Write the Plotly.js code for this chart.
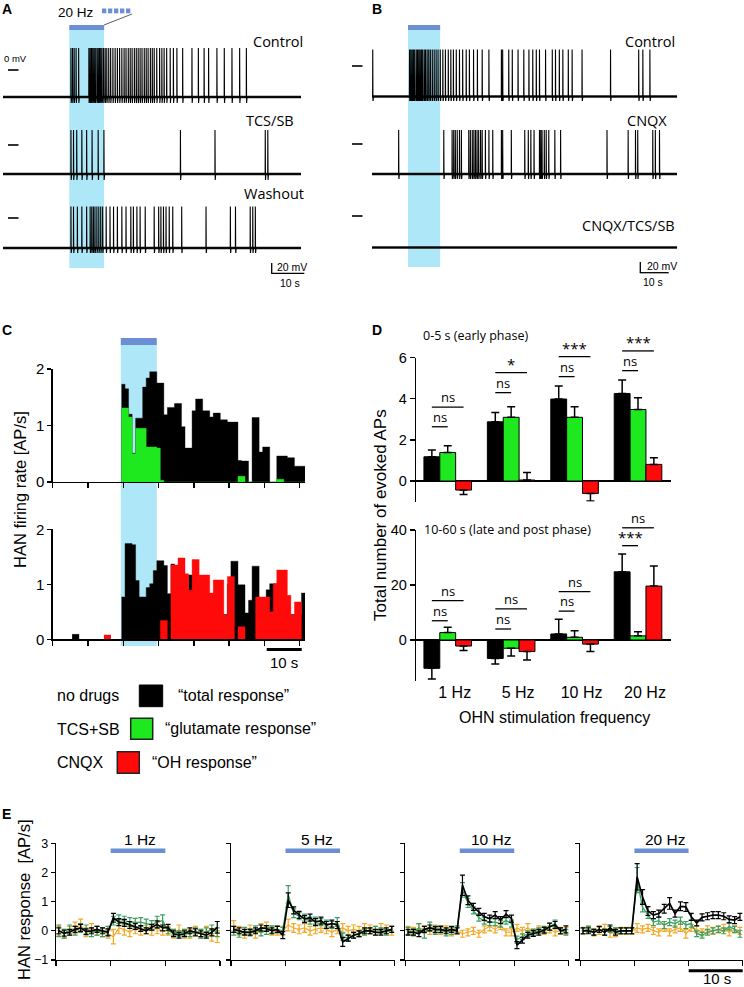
<!DOCTYPE html>
<html><head><meta charset="utf-8">
<script src="https://cdn.plot.ly/plotly-3.0.1.min.js"></script>
<style>html,body{margin:0;padding:0;background:#fff}#chart{width:744px;height:987px}</style>
</head><body><div id="chart"></div>
<script>
// ---------------- DATA ----------------
// Panel A: spike times (s) of the three recordings
const aControlSpikes = [21.2,21.7,22.2,22.8,23.6,26.8,27.2,27.6,28.0,28.4,28.8,29.3,29.7,30.1,30.5,30.9,31.4,31.9,32.4,33.0,33.6,34.3,35.0,35.7,36.4,37.1,37.8,38.4,39.1,39.7,40.3,41.0,41.6,42.2,42.8,43.4,44.1,44.7,45.3,46.0,46.6,47.2,48.0,48.9,49.6,50.3,51.1,52.2,53.2,54.3,56.1,59.0,61.0,62.8,64.2,66.8,69.1,71.5,73.9,76.0];
const aTcsSpikes = [21.2,22.0,23.0,24.6,26.1,27.8,29.7,31.5,55.4,66.2,81.9,82.7];
const aWashSpikes = [21.2,22.0,23.2,24.6,26.1,27.2,27.7,28.2,28.7,29.3,29.9,30.5,31.1,32.2,33.4,34.5,35.7,37.1,38.4,39.9,40.7,41.8,42.8,44.4,47.2,48.6,49.3,50.1,50.9,51.9,53.0,55.8,63.4,71.0,72.6,77.2,78.0,78.8];
const aLabels = ['Control','TCS/SB','Washout'];
const aBaseline = [-54,-58,-60];   // mV
const aPeak = [44,30,23];          // mV
const aLight = [20.7,31.6];        // s
// Panel B
const bControlSpikes = [10.2,21.7,22.1,22.5,22.9,23.3,23.8,24.2,24.6,25.0,25.4,25.8,26.3,26.7,27.2,27.7,28.2,28.8,29.4,30.0,30.6,31.3,32.1,32.9,33.8,34.6,35.4,36.3,37.3,38.3,39.4,40.4,41.7,42.9,44.4,46.5,50.4,50.8,52.7,53.8,55.6,57.4,59.0,60.2,61.3,62.3,64.2,66.3,67.3,68.5,69.6,71.3,72.5,75.6,84.5,93.3,94.6,96.8];
const bCnqxSpikes = [18.3,32.4,35.0,35.5,36.0,36.6,37.3,37.9,40.2,40.7,41.3,41.8,42.3,42.8,43.3,43.9,44.4,45.4,46.5,47.7,50.4,50.8,53.5,57.7,58.8,59.6,60.6,62.3,62.7,63.1,63.8,64.4,65.2,67.1,68.9,83.4,90.0,92.3,93.0,97.7,98.5,99.8];
const bTripleSpikes = [];
const bLabels = ['Control','CNQX','CNQX/TCS/SB'];
const bBaseline = [-61,-60,-63];
const bPeak = [33,28,0];
const bLight = [21.25,31.3];
const ahpDepth = 12; // mV below baseline

// Panel C: firing-rate histograms (AP/s), 1 s bins starting at 19.5 s
const cBinStart = 19.5;
const cTopBlack = [1.73,1.65,1.2,0.51,1.13,1.13,1.68,1.84,1.95,1.95,1.75,1.75,1.19,1.32,1.32,1.39,1.39,0.98,0.6,0.6,1.26,1.47,1.47,1.26,1.26,1.15,1.22,1.22,1.1,1.1,1.06,1.06,1.06,0.38,0.37,0.37,0,1.14,1.14,0.53,0.62,0.62,0,0,0.46,0.46,0.46,0.43,0.43,0.28,0.28,0.28];
const cTopGreen = [1.31,1.31,1.15,0.5,0.95,0.95,0.95,0.62,0.62,0.62,0.6,0.03,0,0,0,0,0,0,0,0,0,0,0,0,0,0,0,0,0,0,0,0,0,0.1,0.1,0,0,0,0,0,0,0,0,0,0.05,0.05,0,0,0,0,0,0];
const cBotBlack = [0.77,1.74,1.74,1.72,1.07,0.77,0.77,0.94,1.01,1.25,1.43,1.43,1.34,0.83,1.37,1.34,1.1,0.95,0.6,1.17,1.17,0.9,0.9,0.8,0.7,0.6,0.5,0.5,0.45,0.45,1.0,1.42,1.42,0.99,0.99,0.48,0.71,1.33,1.33,0.5,0.5,0.9,1.01,1.01,0.5,0.5,0.45,0.45,0.45,0.45,0.45,0.84];
const cBotRed = [0,0,0,0,0,0,0,0,0,0,0,0.34,0.34,0,1.35,1.35,1.48,1.48,1.19,0.89,1.45,1.45,1.17,1.17,1.17,0.84,1.08,1.08,1.08,0.44,1.14,1.14,0,0.23,0.23,0,0,0,0.77,0.77,0.77,0.77,0.5,1.01,1.26,1.26,1.26,0.8,0.44,0.68,0.68,0];
const cPreBlackStart = [5.5,6.5];  const cPreBlack = [0.09,0.09];
const cPreRedStart = [14.5,15.5];  const cPreRed = [0.08,0.08];
const cLight = [19.3,29.5];

// Panel D: total number of evoked APs
const dFreq = ['1 Hz','5 Hz','10 Hz','20 Hz'];
const dTopBlack = [1.18,2.88,3.99,4.26], dTopBlackErr = [0.33,0.46,0.63,0.65];
const dTopGreen = [1.39,3.10,3.10,3.48], dTopGreenErr = [0.33,0.52,0.52,0.57];
const dTopRed = [-0.44,0.05,-0.60,0.81],  dTopRedErr = [0.21,0.36,0.37,0.32];
const dBotBlack = [-10.3,-6.7,2.2,24.8],  dBotBlackErr = [3.9,2.0,5.3,6.5];
const dBotGreen = [2.7,-3.0,1.0,1.5],     dBotGreenErr = [1.9,2.8,2.4,1.5];
const dBotRed = [-2.2,-4.2,-1.5,19.6],    dBotRedErr = [1.6,3.1,2.7,7.3];
const dTopSigLower = ['ns','ns','ns','ns'], dTopSigUpper = ['ns','*','***','***'];
const dBotSigLower = ['ns','ns','ns','***'], dBotSigUpper = ['ns','ns','ns','ns'];

// Panel E: HAN response (AP/s), 1 s bins
const eFreq = ['1 Hz','5 Hz','10 Hz','20 Hz'];
const eStim = [10,20];
const eT = [0.5,1.5,2.5,3.5,4.5,5.5,6.5,7.5,8.5,9.5,10.5,11.5,12.5,13.5,14.5,15.5,16.5,17.5,18.5,19.5,20.5,21.5,22.5,23.5,24.5,25.5,26.5,27.5,28.5,29.5];
const black1 = [0.0,-0.08,-0.05,0.05,0.1,-0.03,0.0,0.05,0.0,-0.05,0.45,0.3,0.27,0.2,0.15,0.08,0.0,0.12,0.22,0.1,0.12,-0.1,-0.15,-0.1,0.0,-0.05,-0.1,-0.15,-0.05,0.12];
const blackErr1 = [0.1,0.1,0.1,0.1,0.12,0.1,0.1,0.1,0.1,0.12,0.15,0.12,0.12,0.12,0.1,0.1,0.1,0.1,0.12,0.1,0.1,0.1,0.1,0.1,0.1,0.12,0.1,0.1,0.12,0.2];
const green1 = [0.0,-0.1,0.05,0.0,0.1,0.05,-0.05,0.0,-0.05,0.0,0.35,0.4,0.35,0.3,0.28,0.3,0.25,0.2,0.3,0.35,0.0,-0.05,-0.1,-0.05,-0.1,0.0,-0.1,-0.05,0.05,-0.05];
const greenErr1 = [0.2,0.15,0.15,0.15,0.15,0.15,0.15,0.15,0.15,0.15,0.15,0.15,0.15,0.15,0.15,0.15,0.15,0.15,0.2,0.2,0.1,0.1,0.1,0.1,0.1,0.1,0.15,0.15,0.15,0.15];
const orange1 = [0.0,-0.1,0.0,0.1,0.2,-0.05,0.1,0.0,-0.05,-0.1,-0.2,0.1,0.05,-0.05,0.1,0.0,0.05,0.0,0.1,0.0,0.0,-0.1,0.05,-0.1,-0.1,0.0,-0.1,0.0,-0.15,-0.2];
const orangeErr1 = [0.15,0.15,0.15,0.2,0.2,0.15,0.15,0.15,0.15,0.15,0.25,0.2,0.2,0.15,0.2,0.15,0.15,0.15,0.2,0.15,0.15,0.15,0.15,0.15,0.15,0.15,0.15,0.15,0.2,0.2];
const black5 = [0.05,0.0,-0.05,-0.05,0.0,0.1,0.08,0.0,0.05,-0.15,1.05,0.7,0.55,0.4,0.45,0.3,0.35,0.2,0.25,0.2,-0.38,-0.25,-0.15,-0.1,0.0,0.0,-0.05,-0.05,0.0,0.05];
const blackErr5 = [0.1,0.1,0.1,0.1,0.1,0.1,0.1,0.1,0.1,0.12,0.25,0.12,0.12,0.12,0.12,0.12,0.12,0.12,0.12,0.12,0.15,0.1,0.1,0.1,0.1,0.1,0.1,0.1,0.1,0.1];
const green5 = [0.0,-0.1,0.0,-0.05,0.05,-0.05,0.0,0.05,0.05,0.0,1.25,0.6,0.5,0.45,0.35,0.35,0.3,0.25,0.2,0.3,-0.2,-0.25,-0.15,-0.1,-0.05,0.0,0.05,0.0,-0.05,0.05];
const greenErr5 = [0.15,0.12,0.12,0.12,0.12,0.12,0.12,0.12,0.12,0.12,0.3,0.15,0.12,0.12,0.12,0.12,0.12,0.12,0.12,0.15,0.12,0.1,0.1,0.1,0.1,0.1,0.1,0.1,0.1,0.1];
const orange5 = [0.15,0.0,-0.1,0.05,-0.1,0.1,0.15,0.0,0.0,0.0,0.2,0.1,0.05,0.1,0.0,0.05,0.1,0.05,-0.05,0.05,0.1,0.0,0.05,0.0,0.1,0.05,0.0,0.1,0.05,0.0];
const orangeErr5 = [0.2,0.15,0.15,0.15,0.15,0.15,0.15,0.15,0.15,0.15,0.2,0.15,0.15,0.15,0.15,0.15,0.15,0.15,0.15,0.15,0.15,0.15,0.15,0.15,0.15,0.15,0.15,0.15,0.15,0.15];
const black10 = [-0.05,-0.05,-0.1,0.05,0.1,0.05,0.05,0.0,0.05,0.0,1.56,1.05,0.82,0.65,0.48,0.42,0.54,0.37,0.57,0.42,-0.49,-0.32,-0.15,-0.09,-0.05,0.02,0.14,0.2,0.0,0.05];
const blackErr10 = [0.1,0.1,0.1,0.1,0.1,0.1,0.1,0.1,0.1,0.1,0.35,0.15,0.12,0.12,0.12,0.12,0.12,0.12,0.12,0.12,0.12,0.1,0.1,0.1,0.1,0.1,0.12,0.12,0.1,0.12];
const green10 = [0.0,-0.05,0.1,-0.1,0.15,0.0,0.05,-0.05,0.0,0.05,1.4,0.95,0.7,0.45,0.35,0.3,0.3,0.25,0.35,0.25,-0.3,-0.2,-0.1,-0.05,0.0,0.05,0.15,0.25,0.0,-0.05];
const greenErr10 = [0.12,0.12,0.15,0.15,0.15,0.12,0.12,0.12,0.12,0.12,0.25,0.15,0.12,0.12,0.12,0.12,0.12,0.12,0.12,0.12,0.12,0.1,0.1,0.1,0.1,0.1,0.12,0.12,0.1,0.1];
const orange10 = [0.0,0.0,0.1,0.05,0.0,0.05,0.0,0.05,-0.05,0.0,-0.1,-0.05,0.0,-0.1,0.05,0.15,0.05,0.2,-0.05,-0.05,0.1,0.0,0.1,-0.05,0.05,0.0,0.05,-0.05,0.0,0.0];
const orangeErr10 = [0.15,0.12,0.15,0.12,0.12,0.15,0.12,0.12,0.12,0.12,0.12,0.12,0.12,0.12,0.12,0.15,0.12,0.15,0.12,0.12,0.12,0.12,0.15,0.12,0.12,0.12,0.12,0.12,0.12,0.12];
const black20 = [0.0,0.0,-0.05,0.05,-0.05,0.1,-0.05,0.0,0.0,0.0,1.85,1.16,0.68,0.54,0.59,0.76,0.94,0.59,0.84,0.82,0.48,0.27,0.46,0.5,0.54,0.54,0.5,0.39,0.37,0.48];
const blackErr20 = [0.1,0.1,0.1,0.1,0.1,0.1,0.1,0.1,0.1,0.1,0.45,0.25,0.15,0.12,0.12,0.15,0.2,0.12,0.15,0.15,0.12,0.1,0.12,0.12,0.12,0.12,0.12,0.12,0.12,0.12];
const green20 = [0.0,0.05,-0.05,0.05,-0.05,0.05,0.0,0.0,0.0,0.0,1.74,0.8,0.55,0.3,0.35,0.2,0.3,0.25,0.35,0.2,0.25,-0.1,-0.15,-0.05,0.0,0.05,0.0,0.15,0.05,-0.1];
const greenErr20 = [0.1,0.1,0.1,0.1,0.1,0.1,0.1,0.1,0.1,0.1,0.43,0.15,0.12,0.12,0.12,0.12,0.12,0.12,0.12,0.12,0.12,0.1,0.1,0.1,0.1,0.1,0.1,0.12,0.1,0.12];
const orange20 = [0.0,0.05,-0.05,0.0,0.1,-0.1,-0.05,0.0,0.0,0.0,0.1,0.05,0.1,0.0,-0.05,0.1,-0.05,0.05,0.1,-0.1,0.1,0.05,-0.05,0.05,0.0,0.05,0.1,-0.05,0.05,0.0];
const orangeErr20 = [0.12,0.12,0.12,0.12,0.12,0.12,0.15,0.12,0.12,0.12,0.15,0.12,0.12,0.12,0.12,0.12,0.12,0.12,0.12,0.15,0.12,0.12,0.12,0.12,0.12,0.12,0.12,0.12,0.12,0.12];

// ---------------- STYLE / LAYOUT ----------------
const W = 744, H = 987;
const PX = v => v / W;
const PY = v => 1 - v / H;
const ARIAL = 'Liberation Sans, Arial, sans-serif';
const MYRIAD = 'Open Sans, Liberation Sans, sans-serif';
const LIGHT = '#aee8f8';
const STIM = '#6b8fd2';
const GREEN = '#1ee81e';
const RED = '#ff0a0a';
const E_GREEN = '#3a9e62';
const E_ORANGE = '#f5a820';

const traces = [];
const shapes = [];
const annotations = [];
function txt(text, x, y, size, opt) {
  opt = opt || {};
  annotations.push(Object.assign({text: text, x: PX(x), y: PY(y), xref: 'paper', yref: 'paper', showarrow: false,
    xanchor: 'center', yanchor: 'middle', font: {family: opt.family || ARIAL, size: size, color: '#000'}}, opt.extra || {}));
}
function rectPx(x0, y0, x1, y1, color, line) {
  shapes.push({type: 'rect', xref: 'paper', yref: 'paper', x0: PX(x0), x1: PX(x1), y0: PY(y1), y1: PY(y0),
    fillcolor: color, line: line || {width: 0}, layer: 'below'});
}
function linePx(x0, y0, x1, y1, w, color) {
  shapes.push({type: 'line', xref: 'paper', yref: 'paper', x0: PX(x0), x1: PX(x1), y0: PY(y0), y1: PY(y1),
    line: {color: color || '#000', width: w}, layer: 'above'});
}

const layout = {
  width: W, height: H, margin: {l: 0, r: 0, t: 0, b: 0},
  paper_bgcolor: '#ffffff', plot_bgcolor: 'rgba(0,0,0,0)', showlegend: false, barmode: 'overlay',
  font: {family: ARIAL, color: '#000'}
};

// ---- Panels A & B: voltage traces ----
const tRangeA = [0, 93.1], tRangeB = [10, 105.3];
const aZeroPy = [70, 145, 218], bZeroPy = [66, 144, 216];
layout.xaxis = {domain: [PX(3), PX(301)], range: tRangeA, anchor: 'y', visible: false, fixedrange: true};
layout.xaxis2 = {domain: [PX(372), PX(677)], range: tRangeB, anchor: 'y4', visible: false, fixedrange: true};
function rowAxis(z, anchor) { return {domain: [PY(z + 35), PY(z - 25)], range: [-70, 50], anchor: anchor, visible: false, fixedrange: true}; }
layout.yaxis = rowAxis(aZeroPy[0], 'x'); layout.yaxis2 = rowAxis(aZeroPy[1], 'x'); layout.yaxis3 = rowAxis(aZeroPy[2], 'x');
layout.yaxis4 = rowAxis(bZeroPy[0], 'x2'); layout.yaxis5 = rowAxis(bZeroPy[1], 'x2'); layout.yaxis6 = rowAxis(bZeroPy[2], 'x2');

function traceRow(spikes, base, peak, tr, xa, ya) {
  const xs = [tr[0]], ys = [base];
  spikes.forEach(t => { xs.push(t, t + 0.03, t + 0.1, t + 0.25); ys.push(base, peak, base - ahpDepth, base); });
  xs.push(tr[1]); ys.push(base);
  traces.push({type: 'scatter', mode: 'lines', x: tr, y: [base, base], xaxis: xa, yaxis: ya, line: {color: '#111', width: 2.4}, hoverinfo: 'skip'});
  traces.push({type: 'scatter', mode: 'lines', x: xs, y: ys, xaxis: xa, yaxis: ya, line: {color: '#000', width: 1.1}, hoverinfo: 'skip'});
}
const aSpikes = [aControlSpikes, aTcsSpikes, aWashSpikes];
const bSpikes = [bControlSpikes, bCnqxSpikes, bTripleSpikes];
['y', 'y2', 'y3'].forEach((ya, i) => traceRow(aSpikes[i], aBaseline[i], aPeak[i], tRangeA, 'x', ya));
['y4', 'y5', 'y6'].forEach((ya, i) => traceRow(bSpikes[i], bBaseline[i], bPeak[i], tRangeB, 'x2', ya));

// light periods
shapes.push({type: 'rect', xref: 'x', yref: 'paper', x0: aLight[0], x1: aLight[1], y0: PY(268), y1: PY(30), fillcolor: LIGHT, line: {width: 0}, layer: 'below'});
shapes.push({type: 'rect', xref: 'x', yref: 'paper', x0: aLight[0], x1: aLight[1], y0: PY(30), y1: PY(25), fillcolor: STIM, line: {width: 0}, layer: 'below'});
shapes.push({type: 'rect', xref: 'x2', yref: 'paper', x0: bLight[0], x1: bLight[1], y0: PY(267), y1: PY(30), fillcolor: LIGHT, line: {width: 0}, layer: 'below'});
shapes.push({type: 'rect', xref: 'x2', yref: 'paper', x0: bLight[0], x1: bLight[1], y0: PY(30), y1: PY(25), fillcolor: STIM, line: {width: 0}, layer: 'below'});
// 20 Hz pulse callout
for (let i = 0; i < 5; i++) rectPx(102 + 6 * i, 8.5, 106.3 + 6 * i, 13.3, STIM);
linePx(104, 25, 132, 14, 0.8, '#333');
txt('20 Hz', 76, 13, 13.5);
// 0 mV dashes
aZeroPy.forEach(z => linePx(8, z, 18.5, z, 1.6));
bZeroPy.forEach(z => linePx(352, z, 362.5, z, 1.6));
txt('0 mV', 15, 58.5, 9.5);
// labels
txt(aLabels[0], 305, 41, 14.5, {family: MYRIAD, extra: {xanchor: 'right'}});
txt(aLabels[1], 296, 121, 14.5, {family: MYRIAD, extra: {xanchor: 'right'}});
txt(aLabels[2], 306, 194, 14.5, {family: MYRIAD, extra: {xanchor: 'right'}});
txt(bLabels[0], 677, 41, 14.5, {family: MYRIAD, extra: {xanchor: 'right'}});
txt(bLabels[1], 669, 121, 14.5, {family: MYRIAD, extra: {xanchor: 'right'}});
txt(bLabels[2], 677, 225, 14.5, {family: MYRIAD, extra: {xanchor: 'right'}});
// scale bars
linePx(271.7, 263, 271.7, 273.3, 1.3); linePx(271.2, 273.3, 304.3, 273.3, 1.3);
txt('20 mV', 292, 266.5, 10.5); txt('10 s', 289.5, 283, 10.5);
linePx(640.3, 262, 640.3, 272.7, 1.3); linePx(639.8, 272.7, 668.7, 272.7, 1.3);
txt('20 mV', 662, 265.5, 10.5); txt('10 s', 652.5, 282.5, 10.5);

// ---- Panel C ----
const cAx = {showline: true, linecolor: '#000', linewidth: 1.3, ticks: 'outside', ticklen: 5, tickwidth: 1.3, tickcolor: '#000',
  showgrid: false, zeroline: false, fixedrange: true};
const cXticks = [0, 10, 20, 30, 40, 50, 60, 70];
layout.xaxis3 = Object.assign({}, cAx, {domain: [PX(52.7), PX(305)], range: [0, 71.5], anchor: 'y7', tickvals: cXticks, showticklabels: false});
layout.xaxis4 = Object.assign({}, cAx, {domain: [PX(52.7), PX(305)], range: [0, 71.5], anchor: 'y8', tickvals: cXticks, showticklabels: false});
layout.yaxis7 = Object.assign({}, cAx, {domain: [PY(482), PY(369)], range: [0, 2], anchor: 'x3', tickvals: [0, 1, 2], ticklen: 4, tickfont: {size: 15}});
layout.yaxis8 = Object.assign({}, cAx, {domain: [PY(639.3), PY(529.3)], range: [0, 2], anchor: 'x4', tickvals: [0, 1, 2], ticklen: 4, tickfont: {size: 15}});
// histogram drawn as filled step outline (bins of 1 s, no gaps)
function histTrace(vals, color, xa, ya, starts) {
  const x = starts ? starts.slice() : vals.map((v, i) => cBinStart + i);
  x.push(x[x.length - 1] + 1);
  const y = vals.concat([vals[vals.length - 1]]);
  traces.push({type: 'scatter', mode: 'lines', x: x, y: y, xaxis: xa, yaxis: ya,
    line: {shape: 'hv', color: color, width: 0.4}, fill: 'tozeroy', fillcolor: color, hoverinfo: 'skip'});
}
histTrace(cTopBlack, '#000', 'x3', 'y7');
histTrace(cTopGreen, GREEN, 'x3', 'y7');
histTrace(cPreBlack, '#000', 'x4', 'y8', cPreBlackStart);
histTrace(cBotBlack, '#000', 'x4', 'y8');
histTrace(cPreRed, RED, 'x4', 'y8', cPreRedStart);
histTrace(cBotRed, RED, 'x4', 'y8');
shapes.push({type: 'rect', xref: 'x3', yref: 'paper', x0: cLight[0], x1: cLight[1], y0: PY(646), y1: PY(345), fillcolor: LIGHT, line: {width: 0}, layer: 'below'});
shapes.push({type: 'rect', xref: 'x3', yref: 'paper', x0: cLight[0], x1: cLight[1], y0: PY(345), y1: PY(338), fillcolor: STIM, line: {width: 0}, layer: 'below'});
linePx(266.7, 649.5, 301.7, 649.5, 3);
txt('10 s', 284, 662.5, 15);
txt('HAN firing rate [AP/s]', 20, 490, 16.5, {extra: {textangle: -90}});
// legend
txt('no drugs', 55, 695, 16, {extra: {xanchor: 'left'}});
txt('TCS+SB', 55, 729, 16, {extra: {xanchor: 'left'}});
txt('CNQX', 55, 762, 16, {extra: {xanchor: 'left'}});
rectPx(139.3, 685, 162.7, 706.7, '#000', {color: '#000', width: 1});
rectPx(130.7, 718.3, 152.7, 739.3, GREEN, {color: '#222', width: 1.5});
rectPx(117.3, 751.7, 139.3, 773.3, RED, {color: '#222', width: 1.5});
txt('\u201ctotal response\u201d', 176, 695, 16, {extra: {xanchor: 'left'}});
txt('\u201cglutamate response\u201d', 163, 728.5, 16, {extra: {xanchor: 'left'}});
txt('\u201cOH response\u201d', 150, 762, 16, {extra: {xanchor: 'left'}});

// ---- Panel D ----
const dX = [0, 1, 2, 3];
const dXRange = [-0.5, 3.52];
const dDomX = [PX(416), PX(671)];
layout.xaxis5 = {domain: dDomX, range: dXRange, anchor: 'y9', showline: false, showgrid: false, zeroline: false, ticks: '', showticklabels: false, fixedrange: true};
layout.xaxis6 = {domain: dDomX, range: dXRange, anchor: 'y10', showline: false, showgrid: false, zeroline: false, ticks: '',
  tickvals: dX, ticktext: dFreq, showticklabels: true, ticklabelshift: 7, tickfont: {size: 16}, fixedrange: true};
const dYAx = {showline: true, linecolor: '#000', linewidth: 1.3, ticks: 'outside', ticklen: 5, tickwidth: 1.3, tickcolor: '#000',
  showgrid: false, zeroline: true, zerolinecolor: '#000', zerolinewidth: 1.6, tickfont: {size: 14.5}, fixedrange: true};
layout.yaxis9 = Object.assign({}, dYAx, {domain: [PY(501.6), PY(357.7)], range: [-1, 6], anchor: 'x5', tickvals: [0, 2, 4, 6]});
layout.yaxis10 = Object.assign({}, dYAx, {domain: [PY(681.25), PY(530)], range: [-15, 40], anchor: 'x6', tickvals: [0, 20, 40]});
function dBars(vals, errs, color, off, xa, ya) {
  traces.push({type: 'bar', x: dX, y: vals, offset: off, width: 0.25, xaxis: xa, yaxis: ya,
    marker: {color: color, line: {color: '#000', width: 1}},
    error_y: {type: 'data', symmetric: false, array: vals.map((v, i) => v >= 0 ? errs[i] : 0),
      arrayminus: vals.map((v, i) => v < 0 ? errs[i] : 0), color: '#000', thickness: 1.5, width: 4},
    hoverinfo: 'skip'});
}
dBars(dTopBlack, dTopBlackErr, '#000', -0.375, 'x5', 'y9');
dBars(dTopGreen, dTopGreenErr, GREEN, -0.125, 'x5', 'y9');
dBars(dTopRed, dTopRedErr, RED, 0.125, 'x5', 'y9');
dBars(dBotBlack, dBotBlackErr, '#000', -0.375, 'x6', 'y10');
dBars(dBotGreen, dBotGreenErr, GREEN, -0.125, 'x6', 'y10');
dBars(dBotRed, dBotRedErr, RED, 0.125, 'x6', 'y10');
// significance markers
function toPaper(dom, rng, v) { return dom[0] + (v - rng[0]) / (rng[1] - rng[0]) * (dom[1] - dom[0]); }
function sig(labels, ys, yDom, yRng, spanEnd) {
  labels.forEach((lab, i) => {
    const x0 = toPaper(dDomX, dXRange, i - 0.25), x1 = toPaper(dDomX, dXRange, i + spanEnd);
    const y = toPaper(yDom, yRng, ys[i]);
    shapes.push({type: 'line', xref: 'paper', yref: 'paper', x0: x0, x1: x1, y0: y, y1: y, line: {color: '#000', width: 1.3}});
    annotations.push({text: lab, x: (x0 + x1) / 2, y: y, xref: 'paper', yref: 'paper', showarrow: false, xanchor: 'center',
      yanchor: 'bottom', yshift: lab.indexOf('*') >= 0 ? -3 : -1, font: {family: MYRIAD, size: lab.indexOf('*') >= 0 ? 15 : 13, color: '#000'}});
  });
}
const dTopLowerY = [2.64, 4.30, 5.08, 5.37], dTopUpperY = [3.60, 5.27, 6.05, 6.33];
const dBotLowerY = [7.0, 4.0, 10.5, 34.3], dBotUpperY = [14.3, 11.3, 17.6, 40.8];
sig(dTopSigLower, dTopLowerY, layout.yaxis9.domain, layout.yaxis9.range, 0);
sig(dTopSigUpper, dTopUpperY, layout.yaxis9.domain, layout.yaxis9.range, 0.25);
sig(dBotSigLower, dBotLowerY, layout.yaxis10.domain, layout.yaxis10.range, 0);
sig(dBotSigUpper, dBotUpperY, layout.yaxis10.domain, layout.yaxis10.range, 0.25);
txt('0-5 s (early phase)', 421, 335, 12.5, {family: MYRIAD, extra: {xanchor: 'left'}});
txt('10-60 s (late and post phase)', 422, 529, 12.5, {family: MYRIAD, extra: {xanchor: 'left'}});
txt('OHN stimulation frequency', 554, 717, 16);
txt('Total number of evoked APs', 380, 515, 17, {extra: {textangle: -90}});

// ---- Panel E ----
const eDom = [[56, 220], [231, 394.5], [405.3, 568.7], [580.3, 742.7]];
const eBlack = [black1, black5, black10, black20], eBlackErr = [blackErr1, blackErr5, blackErr10, blackErr20];
const eGreen = [green1, green5, green10, green20], eGreenErr = [greenErr1, greenErr5, greenErr10, greenErr20];
const eOrange = [orange1, orange5, orange10, orange20], eOrangeErr = [orangeErr1, orangeErr5, orangeErr10, orangeErr20];
eDom.forEach((d, i) => {
  const xn = 'xaxis' + (7 + i), yn = 'yaxis' + (11 + i), xa = 'x' + (7 + i), ya = 'y' + (11 + i);
  layout[xn] = {domain: [PX(d[0]), PX(d[1])], range: [0, 30], anchor: ya, showline: true, linecolor: '#000', linewidth: 1.3,
    ticks: 'outside', ticklen: 5, tickwidth: 1.3, tickcolor: '#000', tickvals: [0, 10, 20, 30], showticklabels: false,
    showgrid: false, zeroline: false, fixedrange: true};
  layout[yn] = {domain: [PY(960), PY(843.3)], range: [-1, 3], anchor: xa, showline: true, linecolor: '#000', linewidth: 1.3,
    ticks: 'outside', ticklen: 4, tickwidth: 1.3, tickcolor: '#000', tickvals: [-1, 0, 1, 2, 3], showticklabels: i === 0,
    tickfont: {size: 12.5}, showgrid: false, zeroline: false, fixedrange: true};
  shapes.push({type: 'line', xref: xa, yref: ya, x0: 0, x1: 30, y0: 0, y1: 0, line: {color: '#bbbbbb', width: 1, dash: 'dot'}, layer: 'below'});
  shapes.push({type: 'rect', xref: xa, yref: 'paper', x0: eStim[0], x1: eStim[1], y0: PY(853), y1: PY(848.5), fillcolor: STIM, line: {width: 0}});
  const mk = (y, e, c, w) => ({type: 'scatter', mode: 'lines', x: eT, y: y, xaxis: xa, yaxis: ya, line: {color: c, width: w},
    error_y: {type: 'data', array: e, color: c, thickness: 1.2, width: 2.5}, hoverinfo: 'skip'});
  traces.push(mk(eOrange[i], eOrangeErr[i], E_ORANGE, 1.1));
  traces.push(mk(eGreen[i], eGreenErr[i], E_GREEN, 1.3));
  traces.push(mk(eBlack[i], eBlackErr[i], '#000', 1.7));
  const cx = (d[0] + d[1]) / 2 + 4;
  txt(eFreq[i], cx + (i === 0 ? -2 : 0), 839, 15.5);
});
txt('HAN response\u00a0\u00a0[AP/s]', 24, 900, 16.5, {extra: {textangle: -90}});
linePx(688.7, 970.7, 742.7, 970.7, 3);
txt('10 s', 717, 978, 15);

// panel letters
[['A', 7, 9], ['B', 377, 9], ['C', 7, 330], ['D', 377, 330], ['E', 6, 814]].forEach(p =>
  txt('<b>' + p[0] + '</b>', p[1], p[2], 14));

layout.shapes = shapes;
layout.annotations = annotations;
Plotly.newPlot('chart', traces, layout, {staticPlot: true, displayModeBar: false});
</script></body></html>
